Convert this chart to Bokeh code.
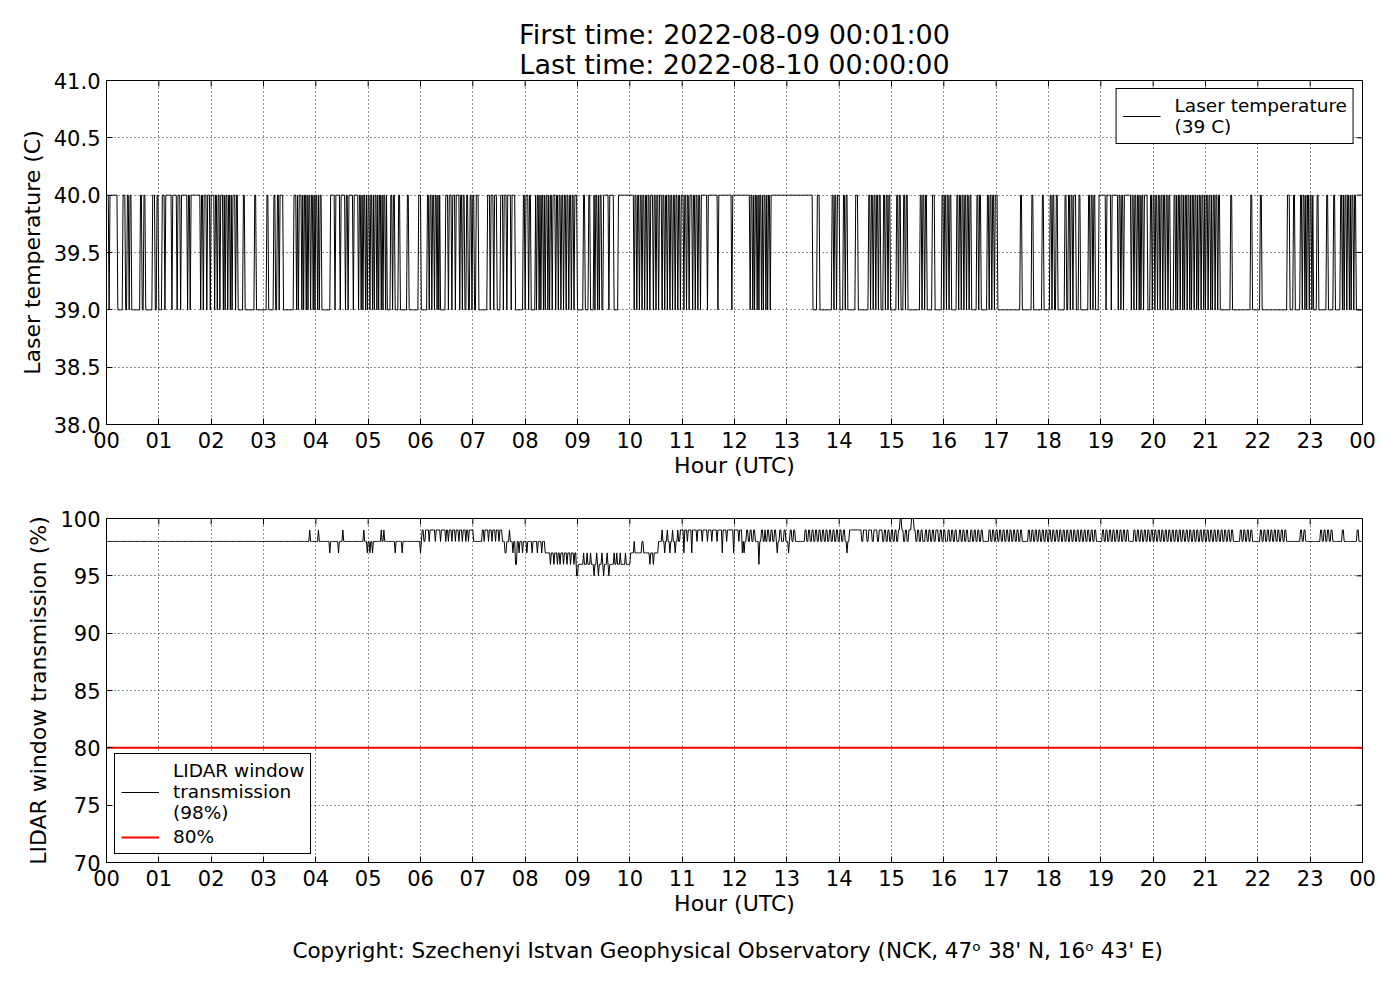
import numpy as np
from bokeh.plotting import figure
from bokeh.models import Range1d, FixedTicker, Title, Legend, LegendItem, PrintfTickFormatter
from bokeh.layouts import column
from bokeh.embed import file_html
from bokeh.resources import INLINE

FONT = "DejaVu Sans"

# ---------------- data ----------------
title_lines = ["First time: 2022-08-09 00:01:00", "Last time: 2022-08-10 00:00:00"]
footer_text = "Copyright: Szechenyi Istvan Geophysical Observatory (NCK, 47\u1d52  38' N, 16\u1d52  43' E)"
x_label = "Hour (UTC)"
temp_label = "Laser temperature (C)"
lidar_label = "LIDAR window transmission (%)"
temp_legend = "Laser temperature\n(39 C)"
lidar_legend = "LIDAR window\ntransmission\n(98%)"
threshold_legend = "80%"

hour_ticks = list(range(0, 25))
hour_labels = ["00", "01", "02", "03", "04", "05", "06", "07", "08", "09", "10", "11",
               "12", "13", "14", "15", "16", "17", "18", "19", "20", "21", "22", "23", "00"]
temp_ticks = [38.0, 38.5, 39.0, 39.5, 40.0, 40.5, 41.0]
lidar_ticks = [70, 75, 80, 85, 90, 95, 100]
temp_range = [38.0, 41.0]
lidar_range = [70, 100]
threshold = 80

temp_low = 39.0
temp_high = 40.0
# minutes of day (00:01 .. 24:00) during which the laser temperature read 40 C
laser_high_runs = [
    (1, 2), (4, 5), (6, 8), (9, 12), (19, 21), (24, 25), (27, 28), (39, 40), (43, 44), (53, 55),
    (58, 59), (64, 66), (68, 74), (76, 80), (82, 84), (86, 92), (94, 95), (97, 107), (109, 110),
    (112, 114), (116, 118), (120, 123), (125, 126), (128, 129), (131, 133), (135, 135), (137, 138),
    (140, 141), (143, 143), (145, 147), (149, 150), (157, 158), (170, 171), (184, 185), (192, 193),
    (196, 197), (199, 202), (215, 217), (219, 219), (221, 223), (225, 225), (227, 228), (230, 230),
    (232, 233), (235, 236), (238, 238), (240, 241), (243, 243), (245, 246), (257, 261), (263, 267),
    (269, 273), (275, 276), (278, 282), (284, 288), (290, 291), (293, 293), (295, 296), (298, 298),
    (300, 301), (303, 304), (306, 306), (308, 309), (311, 311), (313, 314), (316, 316), (318, 319),
    (321, 321), (326, 327), (329, 330), (335, 336), (345, 346), (358, 360),
    (368, 369), (371, 372), (374, 375), (377, 378), (380, 380), (382, 382), (389, 391), (393, 395),
    (397, 399), (401, 404), (406, 407), (409, 410), (413, 414), (417, 418), (420, 421), (424, 426),
    (437, 439), (441, 443), (445, 447), (452, 454), (456, 458), (460, 463), (465, 468), (478, 479),
    (481, 483), (485, 486), (492, 492), (494, 495), (497, 497), (499, 500), (502, 502), (504, 505),
    (507, 507), (509, 510), (512, 514), (516, 517), (519, 520), (522, 523), (525, 526), (528, 529),
    (531, 532), (534, 535), (537, 539), (547, 548), (553, 554), (559, 559), (561, 562), (564, 564),
    (566, 567), (570, 575), (577, 581), (587, 604), (606, 607), (609, 610), (612, 613), (615, 616),
    (618, 619), (621, 622), (624, 626), (628, 629), (631, 632), (634, 636), (638, 639), (641, 642),
    (644, 645), (647, 648), (650, 651), (653, 654), (656, 657), (659, 661), (663, 664), (666, 667),
    (669, 671), (673, 674), (676, 677), (679, 680), (682, 688), (690, 700), (702, 716), (718, 737),
    (739, 740), (742, 742), (744, 745), (747, 747), (749, 750), (752, 752), (754, 755), (757, 757),
    (759, 760), (762, 809), (815, 817), (832, 833), (835, 836), (838, 840), (845, 846), (848, 849),
    (859, 861), (874, 875), (877, 878), (880, 881), (883, 884), (886, 887), (891, 892), (894, 895),
    (897, 898), (906, 907), (909, 910), (914, 915), (917, 918), (933, 934), (936, 937), (939, 940),
    (947, 949), (958, 959), (961, 962), (964, 965), (967, 968), (975, 976), (978, 979), (981, 982),
    (984, 985), (987, 988), (990, 991), (998, 999), (1001, 1002), (1010, 1011), (1013, 1014),
    (1016, 1017), (1019, 1021), (1048, 1049), (1061, 1062), (1073, 1074), (1082, 1083), (1085, 1086),
    (1089, 1090), (1099, 1100), (1103, 1104), (1106, 1107), (1109, 1111), (1115, 1116), (1126, 1127),
    (1129, 1130), (1132, 1133), (1138, 1145), (1147, 1151), (1153, 1159), (1161, 1162), (1164, 1165),
    (1167, 1174), (1176, 1177), (1179, 1180), (1182, 1183), (1185, 1185), (1187, 1188), (1190, 1193),
    (1197, 1198), (1200, 1201), (1203, 1204), (1206, 1207), (1209, 1210), (1212, 1213), (1215, 1216),
    (1218, 1219), (1224, 1225), (1227, 1227), (1229, 1230), (1232, 1233), (1235, 1235), (1237, 1238),
    (1240, 1241), (1243, 1243), (1245, 1246), (1248, 1249), (1251, 1251), (1253, 1254), (1256, 1257),
    (1259, 1259), (1261, 1262), (1264, 1265), (1267, 1267), (1269, 1270), (1272, 1273), (1275, 1276),
    (1289, 1290), (1312, 1313), (1323, 1324), (1354, 1356), (1361, 1362), (1369, 1370), (1372, 1373),
    (1375, 1375), (1377, 1378), (1380, 1381), (1383, 1383), (1388, 1389), (1399, 1400), (1407, 1408),
    (1415, 1416), (1418, 1418), (1420, 1421), (1423, 1424), (1426, 1426), (1428, 1429), (1431, 1432),
]

# LIDAR window transmission: (minute of day from which it holds, value %)
lidar_changes = [
    (0, 98), (233, 99), (234, 98), (243, 99), (244, 98), (256, 97), (257, 98), (266, 97), (267, 98),
    (271, 99), (272, 98), (295, 99), (296, 98), (299, 97), (300, 98), (302, 97), (303, 98), (305, 97),
    (306, 98), (315, 99), (316, 98), (318, 99), (319, 98), (331, 97), (332, 98), (339, 97), (340, 98),
    (360, 97), (361, 98), (362, 99), (364, 98), (366, 99), (370, 98), (371, 99), (377, 98), (378, 99),
    (383, 98), (384, 99), (389, 98), (390, 99), (392, 98), (393, 99), (396, 98), (397, 99), (400, 98),
    (401, 99), (404, 98), (405, 99), (408, 98), (409, 99), (412, 98), (413, 99), (415, 98), (416, 99),
    (421, 98), (431, 99), (433, 98), (434, 99), (438, 98), (439, 99), (442, 98), (443, 99), (446, 98),
    (447, 99), (450, 98), (451, 99), (454, 98), (457, 97), (459, 98), (462, 99), (463, 98), (466, 97),
    (467, 98), (469, 96), (471, 98), (473, 97), (474, 98), (477, 97), (478, 98), (482, 97), (483, 98),
    (488, 97), (489, 98), (494, 97), (495, 98), (499, 97), (500, 98), (503, 97), (509, 96), (510, 97),
    (513, 96), (514, 97), (517, 96), (518, 97), (520, 96), (521, 97), (524, 96), (525, 97), (528, 96),
    (529, 97), (532, 96), (533, 97), (536, 96), (537, 97), (539, 95), (541, 96), (547, 97), (548, 96),
    (551, 97), (552, 96), (555, 97), (556, 96), (559, 95), (560, 96), (562, 97), (563, 96), (564, 95),
    (565, 96), (568, 97), (569, 96), (570, 95), (571, 96), (574, 97), (575, 96), (576, 95), (577, 96),
    (582, 97), (583, 96), (585, 97), (586, 96), (589, 97), (590, 96), (595, 97), (596, 96), (601, 97),
    (605, 98), (606, 97), (614, 98), (616, 97), (623, 96), (624, 97), (627, 96), (628, 97), (633, 98),
    (637, 99), (638, 98), (640, 97), (641, 98), (643, 99), (644, 98), (646, 97), (647, 98), (649, 99),
    (650, 98), (652, 97), (653, 98), (655, 99), (656, 98), (658, 99), (662, 97), (663, 99), (666, 98),
    (667, 99), (671, 97), (672, 99), (677, 98), (678, 99), (683, 98), (684, 99), (689, 98), (690, 99),
    (694, 98), (695, 99), (700, 98), (701, 99), (706, 97), (707, 99), (711, 98), (712, 99), (719, 97),
    (720, 99), (725, 98), (726, 99), (729, 97), (730, 98), (731, 97), (732, 98), (734, 99), (736, 98),
    (738, 99), (740, 98), (742, 99), (744, 98), (748, 96), (749, 98), (751, 99), (753, 98), (755, 99),
    (756, 98), (758, 99), (760, 98), (762, 99), (764, 98), (766, 99), (768, 98), (769, 97), (770, 98),
    (772, 99), (774, 98), (777, 99), (779, 98), (782, 97), (783, 98), (784, 99), (786, 98), (788, 99),
    (790, 98), (801, 99), (803, 98), (805, 99), (807, 98), (809, 99), (811, 98), (813, 99), (815, 98),
    (817, 99), (819, 98), (821, 99), (823, 98), (825, 99), (827, 98), (829, 99), (831, 98), (833, 99),
    (835, 98), (837, 99), (839, 98), (841, 99), (843, 98), (845, 99), (847, 98), (849, 97), (850, 98),
    (852, 99), (866, 98), (868, 99), (872, 98), (874, 99), (878, 98), (880, 99), (884, 98), (886, 99),
    (890, 98), (892, 99), (894, 98), (896, 99), (898, 98), (900, 99), (902, 98), (904, 99), (906, 98),
    (908, 99), (910, 100), (912, 99), (914, 98), (916, 99), (918, 98), (920, 99), (923, 100), (926, 99),
    (928, 98), (930, 99), (932, 98), (934, 99), (936, 98), (939, 99), (941, 98), (943, 99), (945, 98),
    (947, 99), (949, 98), (951, 99), (954, 98), (956, 99), (958, 98), (960, 99), (962, 98), (965, 99),
    (967, 98), (969, 99), (971, 98), (973, 99), (975, 98), (978, 99), (980, 98), (982, 99), (984, 98),
    (986, 99), (988, 98), (991, 99), (993, 98), (995, 99), (997, 98), (999, 99), (1001, 98), (1003, 99),
    (1005, 98), (1012, 99), (1014, 98), (1016, 99), (1018, 98), (1020, 99), (1022, 98), (1024, 99),
    (1026, 98), (1028, 99), (1030, 98), (1032, 99), (1034, 98), (1036, 99), (1038, 98), (1040, 99),
    (1042, 98), (1044, 99), (1046, 98), (1048, 99), (1050, 98), (1057, 99), (1059, 98), (1061, 99),
    (1063, 98), (1065, 99), (1067, 98), (1069, 99), (1071, 98), (1073, 99), (1075, 98), (1077, 99),
    (1079, 98), (1081, 99), (1083, 98), (1085, 99), (1087, 98), (1089, 99), (1091, 98), (1093, 99),
    (1095, 98), (1097, 99), (1099, 98), (1101, 99), (1103, 98), (1105, 99), (1107, 98), (1109, 99),
    (1111, 98), (1113, 99), (1115, 98), (1117, 99), (1119, 98), (1121, 99), (1123, 98), (1125, 99),
    (1127, 98), (1129, 99), (1131, 98), (1133, 99), (1135, 98), (1142, 99), (1144, 98), (1146, 99),
    (1148, 98), (1150, 99), (1152, 98), (1154, 99), (1156, 98), (1158, 99), (1160, 98), (1162, 99),
    (1164, 98), (1166, 99), (1168, 98), (1170, 99), (1172, 98), (1178, 99), (1180, 98), (1182, 99),
    (1184, 98), (1186, 99), (1188, 98), (1190, 99), (1192, 98), (1194, 99), (1196, 98), (1198, 99),
    (1200, 98), (1202, 99), (1204, 98), (1206, 99), (1208, 98), (1210, 99), (1212, 98), (1214, 99),
    (1216, 98), (1218, 99), (1220, 98), (1222, 99), (1224, 98), (1226, 99), (1228, 98), (1230, 99),
    (1232, 98), (1234, 99), (1236, 98), (1238, 99), (1240, 98), (1242, 99), (1244, 98), (1246, 99),
    (1248, 98), (1250, 99), (1252, 98), (1254, 99), (1256, 98), (1258, 99), (1260, 98), (1262, 99),
    (1264, 98), (1266, 99), (1268, 98), (1270, 99), (1272, 98), (1274, 99), (1276, 98), (1278, 99),
    (1280, 98), (1282, 99), (1284, 98), (1286, 99), (1288, 98), (1290, 99), (1292, 98), (1300, 99),
    (1302, 98), (1304, 99), (1306, 98), (1308, 99), (1310, 98), (1312, 99), (1314, 98), (1323, 99),
    (1325, 98), (1327, 99), (1329, 98), (1331, 99), (1333, 98), (1335, 99), (1337, 98), (1339, 99),
    (1341, 98), (1343, 99), (1345, 98), (1347, 99), (1349, 98), (1351, 99), (1353, 98), (1369, 99),
    (1371, 98), (1373, 99), (1375, 98), (1392, 99), (1394, 98), (1396, 99), (1398, 98), (1400, 99),
    (1402, 98), (1404, 99), (1406, 98), (1417, 99), (1419, 98), (1434, 99), (1436, 98),
]

# ---------------- series expansion (1-minute samples) ----------------
minutes = np.arange(1, 1441)
hours = minutes / 60.0
temp = np.full(minutes.shape, temp_low)
for s, e in laser_high_runs:
    temp[(minutes >= s) & (minutes <= e)] = temp_high
lidar = np.zeros(minutes.shape)
for m, v in lidar_changes:
    lidar[minutes >= m] = v

FRAME_W, FRAME_H = 1256, 344
TICK_PX = 6


# ---------------- styling helpers ----------------
def style_axis(ax, ticks, labels=None, fmt=None):
    ax.ticker = FixedTicker(ticks=ticks)
    if labels is not None:
        ax.major_label_overrides = {t: l for t, l in zip(ticks, labels)}
    if fmt is not None:
        ax.formatter = PrintfTickFormatter(format=fmt)
    ax.major_tick_in = TICK_PX
    ax.major_tick_out = 0
    ax.minor_tick_in = 0
    ax.minor_tick_out = 0
    ax.major_tick_line_color = "black"
    ax.axis_line_color = "black"
    ax.major_label_text_font = FONT
    ax.major_label_text_color = "black"
    ax.major_label_text_font_size = "21px"
    ax.axis_label_text_font = FONT
    ax.axis_label_text_font_size = "22px"
    ax.axis_label_text_font_style = "normal"
    ax.axis_label_text_color = "black"


def make_fig(yr, yticks, yfmt, ylabel, top_border, bottom_border):
    p = figure(frame_width=FRAME_W, frame_height=FRAME_H, title=None,
               x_range=Range1d(hour_ticks[0], hour_ticks[-1]), y_range=Range1d(yr[0], yr[1]),
               output_backend="svg", toolbar_location=None,
               min_border_left=106, min_border_right=22,
               min_border_top=top_border, min_border_bottom=bottom_border,
               background_fill_color="white", border_fill_color="white")
    p.outline_line_color = "black"
    p.outline_line_width = 1
    p.outline_line_alpha = 1
    xa = p.below[0]
    ya = p.left[0]
    style_axis(xa, hour_ticks, hour_labels)
    style_axis(ya, yticks, fmt=yfmt)
    xa.major_label_standoff = 7
    ya.major_label_standoff = 6
    xa.axis_label = x_label
    xa.axis_label_standoff = 2
    ya.axis_label = ylabel
    ya.axis_label_standoff = 6
    # inward ticks on the top and right edges of the frame
    dy = (yr[1] - yr[0]) * TICK_PX / FRAME_H
    dx = (hour_ticks[-1] - hour_ticks[0]) * TICK_PX / FRAME_W
    p.segment(x0=hour_ticks, y0=[yr[1]] * len(hour_ticks), x1=hour_ticks,
              y1=[yr[1] - dy] * len(hour_ticks), line_color="black", line_width=1)
    p.segment(x0=[hour_ticks[-1]] * len(yticks), y0=yticks, x1=[hour_ticks[-1] - dx] * len(yticks),
              y1=yticks, line_color="black", line_width=1)
    for g, t in ((p.xgrid, hour_ticks), (p.ygrid, yticks)):
        g.ticker = FixedTicker(ticks=t)
        g.grid_line_color = "black"
        g.grid_line_dash = "1 3"
        g.grid_line_alpha = 0.85
        g.grid_line_width = 1
    return p


def style_legend(lg, loc):
    lg.location = loc
    lg.border_line_color = "black"
    lg.border_line_width = 1
    lg.border_line_alpha = 1
    lg.background_fill_color = "white"
    lg.background_fill_alpha = 1
    lg.label_text_font = FONT
    lg.label_text_font_size = "18.5px"
    lg.label_text_color = "black"
    lg.label_text_line_height = 1.1
    lg.glyph_width = 38
    lg.label_standoff = 14
    lg.padding = 6
    lg.margin = 8
    lg.spacing = 3


# ---------------- top panel ----------------
p1 = make_fig(temp_range, temp_ticks, "%.1f", temp_label, 80, 66)
r1 = p1.line(hours, temp, line_color="black", line_width=1)
p1.add_layout(Title(text=title_lines[1], align="center", text_font=FONT, text_font_size="27px",
                    text_font_style="normal", text_color="black", standoff=2), "above")
p1.add_layout(Title(text=title_lines[0], align="center", text_font=FONT, text_font_size="27px",
                    text_font_style="normal", text_color="black", standoff=-9), "above")
lg1 = Legend(items=[LegendItem(label=temp_legend, renderers=[r1])])
style_legend(lg1, "top_right")
p1.add_layout(lg1)

# ---------------- bottom panel ----------------
p2 = make_fig(lidar_range, lidar_ticks, "%d", lidar_label, 28, 122)
r2 = p2.line(hours, lidar, line_color="black", line_width=1)
r3 = p2.line([hour_ticks[0], hour_ticks[-1]], [threshold, threshold], line_color="red", line_width=2)
lg2 = Legend(items=[LegendItem(label=lidar_legend, renderers=[r2]),
                    LegendItem(label=threshold_legend, renderers=[r3])])
style_legend(lg2, "bottom_left")
p2.add_layout(lg2)
p2.add_layout(Title(text=footer_text, align="center", text_font=FONT, text_font_size="21.5px",
                    text_font_style="normal", text_color="black", standoff=35), "below")

layout = column(p1, p2, spacing=0)
open("out.html", "w").write(file_html(layout, INLINE))
